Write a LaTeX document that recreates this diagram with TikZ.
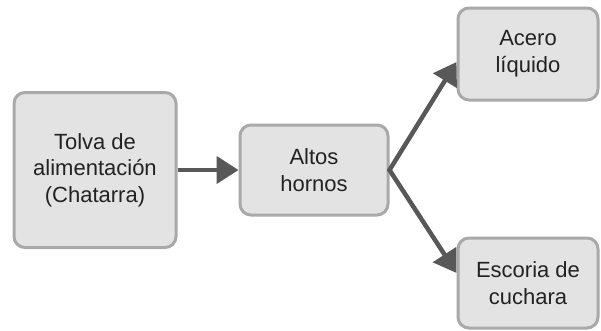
\documentclass[tikz,border=0pt]{standalone}
\usepackage{fontspec}
\setmainfont{Liberation Sans}
\usetikzlibrary{arrows.meta}
\definecolor{boxfill}{HTML}{E3E3E3}
\definecolor{boxline}{HTML}{A9A9A9}
\definecolor{arrowc}{HTML}{585858}
\definecolor{textc}{HTML}{222222}
\begin{document}
\begin{tikzpicture}[x=1pt,y=-1pt,
  procbox/.style={draw=boxline,line width=3pt,fill=boxfill,rounded corners=11pt,
    align=center,text=textc,inner sep=0pt,
    font=\fontsize{22pt}{26.7pt}\selectfont},
  flow/.style={draw=arrowc,line width=4.5pt,-{Triangle[length=22pt,width=27pt]}},
  flow2/.style={draw=arrowc,line width=4.5pt,line join=miter,{Triangle[length=22pt,width=27pt]}-{Triangle[length=22pt,width=27pt]}}]
\useasboundingbox (0,0) rectangle (601,330);
\fill[white] (0,0) rectangle (601,330);
\node[procbox,minimum width=162pt,minimum height=155pt] (tolva) at (95,170) {Tolva de\\alimentación\\(Chatarra)};
\node[procbox,minimum width=148pt,minimum height=90pt] (altos) at (314,170) {Altos\\hornos};
\node[procbox,minimum width=140pt,minimum height=92pt] (acero) at (528,54) {Acero\\líquido};
\node[procbox,minimum width=140pt,minimum height=90pt] (escoria) at (528,283) {Escoria de\\cuchara};
\coordinate (t1) at (acero.west |- 0,62);
\coordinate (t2) at (escoria.west |- 0,273);
\draw[flow] (tolva.east) -- (altos.west);
\draw[flow2] (t1) -- (altos.east) -- (t2);
\end{tikzpicture}
\end{document}
